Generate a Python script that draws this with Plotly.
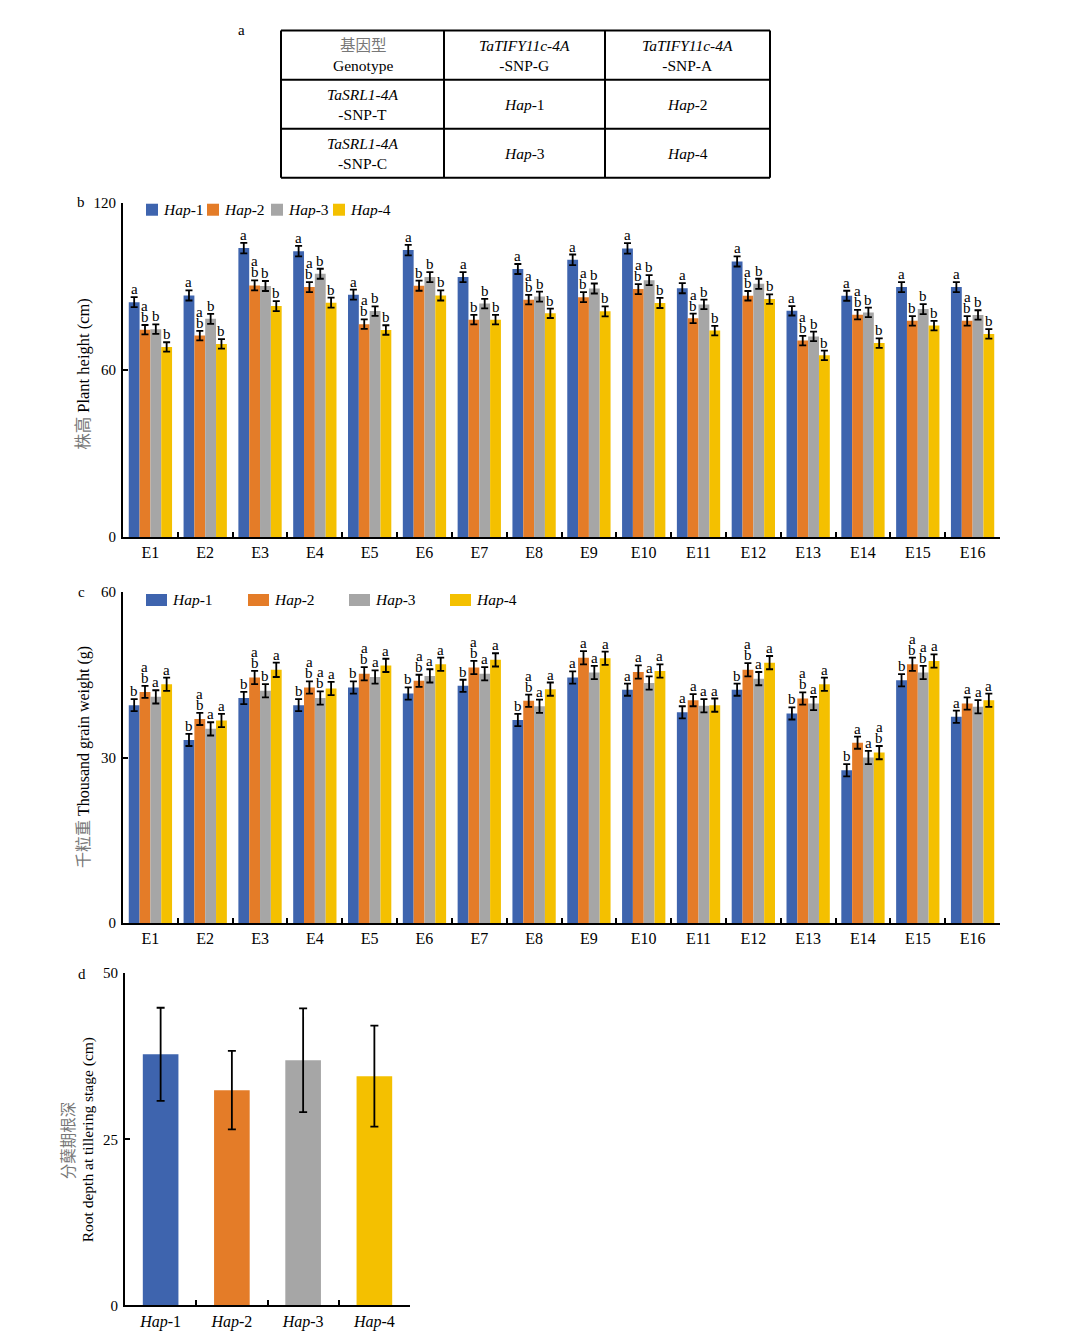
import plotly.graph_objects as go

# ---------------- data ----------------
envs = ["E1", "E2", "E3", "E4", "E5", "E6", "E7", "E8",
        "E9", "E10", "E11", "E12", "E13", "E14", "E15", "E16"]
haps = ["Hap-1", "Hap-2", "Hap-3", "Hap-4"]
hap_labels = ["<i>Hap</i>-1", "<i>Hap</i>-2", "<i>Hap</i>-3", "<i>Hap</i>-4"]
colors = ["#3E64AE", "#E47C28", "#A6A6A6", "#F4C000"]

# plant height (cm)
ph_hap1 = [84.3, 86.7, 103.7, 102.6, 87.0, 103.0, 93.3, 96.2, 99.5, 103.6, 89.3, 98.9, 81.2, 86.6, 89.7, 89.7]
ph_hap2 = [74.4, 72.3, 90.3, 89.7, 76.4, 90.2, 78.0, 85.2, 86.1, 89.0, 78.5, 86.6, 70.5, 79.8, 77.6, 77.6]
ph_hap3 = [74.6, 78.3, 90.1, 94.5, 81.1, 93.3, 83.8, 86.3, 89.2, 92.2, 83.5, 90.9, 72.0, 80.6, 81.8, 79.7]
ph_hap4 = [68.2, 69.3, 82.9, 84.1, 74.3, 86.7, 78.0, 80.3, 81.0, 84.0, 74.1, 85.4, 65.2, 69.6, 75.9, 72.9]
ph_err1 = [1.8, 1.8, 1.9, 1.9, 1.8, 1.9, 1.8, 1.8, 1.9, 1.9, 1.8, 1.8, 1.7, 1.8, 1.8, 1.8]
ph_err2 = [1.7, 1.7, 1.8, 1.8, 1.7, 1.8, 1.7, 1.7, 1.8, 1.8, 1.7, 1.7, 1.7, 1.7, 1.7, 1.7]
ph_err3 = [1.7, 1.8, 1.8, 1.8, 1.7, 1.8, 1.7, 1.8, 1.8, 1.8, 1.7, 1.8, 1.7, 1.7, 1.8, 1.7]
ph_err4 = [1.7, 1.7, 1.8, 1.8, 1.7, 1.8, 1.7, 1.7, 1.8, 1.8, 1.7, 1.7, 1.7, 1.7, 1.7, 1.7]
ph_sig1 = ["a"] * 16
ph_sig2 = ["ab", "ab", "ab", "ab", "ab", "b", "b", "ab", "ab", "ab", "ab", "ab", "ab", "ab", "b", "ab"]
ph_sig3 = ["b"] * 16
ph_sig4 = ["b"] * 16

# thousand grain weight (g)
tgw_hap1 = [39.5, 33.2, 40.8, 39.5, 42.7, 41.6, 43.0, 36.8, 44.5, 42.3, 38.2, 42.3, 38.0, 27.7, 44.0, 37.4]
tgw_hap2 = [41.9, 37.0, 44.5, 42.7, 45.2, 43.9, 46.3, 40.3, 48.1, 45.5, 40.4, 45.9, 40.7, 32.7, 46.9, 39.8]
tgw_hap3 = [41.0, 35.2, 42.1, 40.8, 44.6, 44.8, 45.2, 39.3, 45.4, 43.5, 39.4, 44.3, 39.8, 30.0, 45.4, 39.2]
tgw_hap4 = [43.3, 36.7, 45.9, 42.5, 46.7, 46.9, 47.7, 42.4, 48.0, 45.7, 39.5, 47.2, 43.3, 30.9, 47.5, 40.4]
tgw_err1 = [1.1, 1.1, 1.1, 1.1, 1.1, 1.1, 1.1, 1.1, 1.1, 1.1, 1.1, 1.1, 1.1, 1.1, 1.1, 1.1]
tgw_err2 = [1.1, 1.1, 1.2, 1.1, 1.2, 1.1, 1.2, 1.1, 1.2, 1.2, 1.1, 1.2, 1.1, 1.1, 1.2, 1.1]
tgw_err3 = [1.2, 1.2, 1.2, 1.2, 1.2, 1.2, 1.2, 1.2, 1.2, 1.2, 1.2, 1.2, 1.2, 1.2, 1.2, 1.2]
tgw_err4 = [1.2, 1.2, 1.3, 1.2, 1.2, 1.2, 1.2, 1.2, 1.2, 1.2, 1.2, 1.2, 1.2, 1.2, 1.2, 1.2]
tgw_sig1 = ["b", "b", "b", "b", "b", "b", "b", "b", "a", "a", "a", "b", "b", "b", "b", "a"]
tgw_sig2 = ["ab", "ab", "ab", "ab", "ab", "ab", "ab", "ab", "a", "a", "a", "ab", "ab", "a", "ab", "a"]
tgw_sig3 = ["a", "a", "b", "ab", "a", "a", "a", "a", "a", "a", "a", "a", "a", "a", "ab", "a"]
tgw_sig4 = ["a", "a", "a", "a", "a", "a", "a", "a", "a", "a", "a", "a", "a", "ab", "a", "a"]

# root depth at tillering stage (cm)
root_depth = [37.8, 32.4, 36.9, 34.5]
root_err = [7.0, 5.9, 7.8, 7.6]

# genotype table
table_rows = [
    ["<span style='color:#777'>基因型</span><br>Genotype",
     "<i>TaTIFY11c-4A</i><br>-SNP-G", "<i>TaTIFY11c-4A</i><br>-SNP-A"],
    ["<i>TaSRL1-4A</i><br>-SNP-T", "<i>Hap</i>-1", "<i>Hap</i>-2"],
    ["<i>TaSRL1-4A</i><br>-SNP-C", "<i>Hap</i>-3", "<i>Hap</i>-4"],
]

# ---------------- layout helpers ----------------
W, H = 1080, 1337
FONT = "Liberation Serif, Noto Sans CJK SC"
# the captured page is slightly taller than the window; compensate vertically
Y_OFF, Y_SCALE = 8.4, 0.9874


def px(x):
    return x / W


def py(y):
    return 1 - ((y - Y_OFF) / Y_SCALE) / H


fig = go.Figure()

ph_vals = [ph_hap1, ph_hap2, ph_hap3, ph_hap4]
ph_errs = [ph_err1, ph_err2, ph_err3, ph_err4]
ph_sigs = [ph_sig1, ph_sig2, ph_sig3, ph_sig4]
tgw_vals = [tgw_hap1, tgw_hap2, tgw_hap3, tgw_hap4]
tgw_errs = [tgw_err1, tgw_err2, tgw_err3, tgw_err4]
tgw_sigs = [tgw_sig1, tgw_sig2, tgw_sig3, tgw_sig4]

for k in range(4):
    fig.add_trace(go.Bar(
        x=envs, y=ph_vals[k], name=haps[k], marker_color=colors[k],
        marker_line_width=0, showlegend=False,
        error_y=dict(type="data", array=ph_errs[k], color="black", thickness=1.8, width=3.5),
        xaxis="x", yaxis="y"))
for k in range(4):
    fig.add_trace(go.Bar(
        x=envs, y=tgw_vals[k], name=haps[k], marker_color=colors[k],
        marker_line_width=0, showlegend=False,
        error_y=dict(type="data", array=tgw_errs[k], color="black", thickness=1.8, width=3.5),
        xaxis="x2", yaxis="y2"))
fig.add_trace(go.Bar(
    x=haps, y=root_depth, marker_color=colors, width=0.5, marker_line_width=0,
    showlegend=False,
    error_y=dict(type="data", array=root_err, color="black", thickness=1.8, width=4),
    xaxis="x3", yaxis="y3"))

BARGAP = 0.21
bw = (1 - BARGAP) / 4
offsets = [-(1 - BARGAP) / 2 + (k + 0.5) * bw for k in range(4)]

annotations = []
shapes = []


def add_letters(vals, errs, sigs, xref, yref):
    for k in range(4):
        for i in range(len(envs)):
            letters = sigs[k][i]
            top = vals[k][i] + errs[k][i]
            for j, ch in enumerate(reversed(letters)):
                annotations.append(dict(
                    x=i + offsets[k], y=top, xref=xref, yref=yref, text=ch,
                    showarrow=False, yanchor="bottom", xanchor="center",
                    yshift=-1 + 11 * j, borderpad=0,
                    font=dict(size=15, family=FONT, color="black")))


add_letters(ph_vals, ph_errs, ph_sigs, "x", "y")
add_letters(tgw_vals, tgw_errs, tgw_sigs, "x2", "y2")

# manual legends
legend_b_sq = [146, 207, 271, 333]
legend_c_sq = [146, 248, 349, 450]
for k in range(4):
    shapes.append(dict(type="rect", xref="paper", yref="paper",
                       x0=px(legend_b_sq[k]), x1=px(legend_b_sq[k] + 12),
                       y0=py(216), y1=py(204), fillcolor=colors[k], line_width=0))
    annotations.append(dict(x=px(legend_b_sq[k] + 15), y=py(210), xref="paper", yref="paper",
                            text=hap_labels[k], showarrow=False, xanchor="left", yanchor="middle",
                            font=dict(size=15.5, family=FONT, color="black")))
    shapes.append(dict(type="rect", xref="paper", yref="paper",
                       x0=px(legend_c_sq[k]), x1=px(legend_c_sq[k] + 21),
                       y0=py(606), y1=py(594), fillcolor=colors[k], line_width=0))
    annotations.append(dict(x=px(legend_c_sq[k] + 24), y=py(600), xref="paper", yref="paper",
                            text=hap_labels[k], showarrow=False, xanchor="left", yanchor="middle",
                            font=dict(size=15.5, family=FONT, color="black")))

# table
col_edges = [281, 444, 605, 770]
row_edges = [31, 80, 129, 178]
for xe in col_edges:
    shapes.append(dict(type="line", xref="paper", yref="paper",
                       x0=px(xe), x1=px(xe), y0=py(row_edges[0]), y1=py(row_edges[-1]),
                       line=dict(color="black", width=2)))
for ye in row_edges:
    shapes.append(dict(type="line", xref="paper", yref="paper",
                       x0=px(col_edges[0]), x1=px(col_edges[-1]), y0=py(ye), y1=py(ye),
                       line=dict(color="black", width=2)))
for r in range(3):
    for c in range(3):
        annotations.append(dict(
            x=px((col_edges[c] + col_edges[c + 1]) / 2),
            y=py((row_edges[r] + row_edges[r + 1]) / 2),
            xref="paper", yref="paper", text=table_rows[r][c], showarrow=False,
            xanchor="center", yanchor="middle",
            font=dict(size=15.5, family=FONT, color="black")))

# panel letters
for lab, xx, yy in [("a", 241, 30), ("b", 81, 202), ("c", 81, 592), ("d", 82, 974)]:
    annotations.append(dict(x=px(xx), y=py(yy), xref="paper", yref="paper", text=lab,
                            showarrow=False, xanchor="center", yanchor="middle",
                            font=dict(size=15, family=FONT, color="black")))

# axis titles
title_specs = [
    ("<span style='color:#777'>株高</span> Plant height (cm)", 84, 374, 16.5),
    ("<span style='color:#777'>千粒重</span> Thousand grain weight (g)", 84, 757, 16),
    ("<span style='color:#777'>分蘖期根深</span>", 68, 1140, 15.5),
    ("Root depth at tillering stage (cm)", 88, 1140, 15.5),
]
for txt, xx, yy, fs in title_specs:
    annotations.append(dict(x=px(xx), y=py(yy), xref="paper", yref="paper", textangle=-90,
                            text=txt, showarrow=False, xanchor="center", yanchor="middle",
                            font=dict(size=fs, family=FONT, color="black")))

axis_common = dict(showline=True, linecolor="black", linewidth=2, ticks="inside",
                   tickcolor="black", ticklen=5, tickwidth=1.5, showgrid=False, zeroline=False)
xfont = dict(size=16, family=FONT, color="black")
yfont = dict(size=15, family=FONT, color="black")

fig.update_layout(
    width=W, height=H, margin=dict(l=0, r=0, t=0, b=0),
    paper_bgcolor="white", plot_bgcolor="white",
    barmode="group", bargap=BARGAP, bargroupgap=0,
    font=dict(family=FONT, color="black"),
    showlegend=False,
    xaxis=dict(domain=[px(123), px(1000)], anchor="y", type="category",
               tickson="boundaries", range=[-0.5, 15.5], tickfont=xfont, **axis_common),
    yaxis=dict(domain=[py(537), py(203)], anchor="x", range=[0, 120],
               tickvals=[0, 60, 120], ticklabelstandoff=2, tickfont=yfont, **axis_common),
    xaxis2=dict(domain=[px(123), px(1000)], anchor="y2", type="category",
                tickson="boundaries", range=[-0.5, 15.5], tickfont=xfont, **axis_common),
    yaxis2=dict(domain=[py(923), py(592)], anchor="x2", range=[0, 60],
                tickvals=[0, 30, 60], ticklabelstandoff=2, tickfont=yfont, **axis_common),
    xaxis3=dict(domain=[px(125), px(410)], anchor="y3", type="category",
                tickson="boundaries", range=[-0.5, 3.5],
                tickvals=haps, ticktext=hap_labels, tickfont=xfont, **axis_common),
    yaxis3=dict(domain=[py(1305), py(973)], anchor="x3", range=[0, 50],
                tickvals=[0, 25, 50], ticklabelstandoff=2, tickfont=yfont, **axis_common),
    annotations=annotations, shapes=shapes,
)

fig.write_html(
    "out.html",
    config={"displayModeBar": False},
    post_script="document.body.style.margin='0';document.body.style.padding='0';"
                "document.documentElement.style.overflow='hidden';",
)
